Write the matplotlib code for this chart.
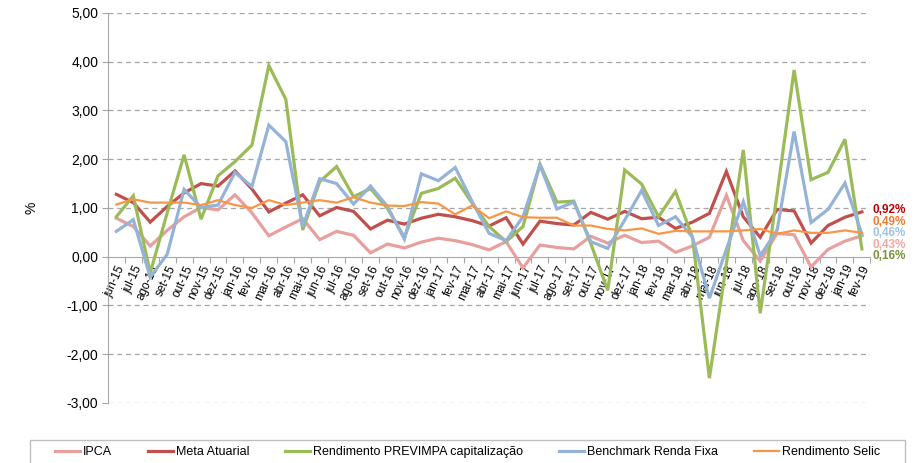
import numpy as np
import matplotlib
matplotlib.use("Agg")
import matplotlib.pyplot as plt
from matplotlib.patches import Rectangle
from matplotlib.ticker import FuncFormatter

plt.rcParams['font.family'] = ['Liberation Sans', 'DejaVu Sans']

meses = ["jun-15", "jul-15", "ago-15", "set-15", "out-15", "nov-15", "dez-15",
         "jan-16", "fev-16", "mar-16", "abr-16", "mai-16", "jun-16", "jul-16",
         "ago-16", "set-16", "out-16", "nov-16", "dez-16", "jan-17", "fev-17",
         "mar-17", "abr-17", "mai-17", "jun-17", "jul-17", "ago-17", "set-17",
         "out-17", "nov-17", "dez-17", "jan-18", "fev-18", "mar-18", "abr-18",
         "mai-18", "jun-18", "jul-18", "ago-18", "set-18", "out-18", "nov-18",
         "dez-18", "jan-19", "fev-19"]

ipca = [0.79, 0.62, 0.22, 0.54, 0.82, 1.01, 0.96, 1.27, 0.90, 0.43, 0.61, 0.78,
        0.35, 0.52, 0.44, 0.08, 0.26, 0.18, 0.30, 0.38, 0.33, 0.25, 0.14, 0.31,
        -0.23, 0.24, 0.19, 0.16, 0.42, 0.28, 0.44, 0.29, 0.32, 0.09, 0.22, 0.40,
        1.26, 0.33, -0.09, 0.48, 0.45, -0.21, 0.15, 0.32, 0.43]

meta = [1.28, 1.11, 0.71, 1.03, 1.31, 1.50, 1.45, 1.76, 1.39, 0.92, 1.10, 1.27,
        0.84, 1.01, 0.93, 0.57, 0.75, 0.67, 0.79, 0.87, 0.82, 0.74, 0.63, 0.80,
        0.26, 0.73, 0.68, 0.65, 0.91, 0.77, 0.93, 0.78, 0.81, 0.58, 0.71, 0.89,
        1.75, 0.82, 0.40, 0.97, 0.94, 0.28, 0.64, 0.81, 0.92]

previmpa = [0.82, 1.25, -0.33, 0.90, 2.09, 0.77, 1.66, 1.95, 2.29, 3.92, 3.23, 0.55,
            1.54, 1.85, 1.23, 1.40, 0.99, 0.40, 1.30, 1.40, 1.61, 1.10, 0.62, 0.31,
            0.62, 1.90, 1.12, 1.14, 0.27, -0.69, 1.78, 1.49, 0.82, 1.34, 0.40, -2.49,
            -0.15, 2.19, -1.16, 1.30, 3.83, 1.58, 1.73, 2.41, 0.16]

benchmark = [0.52, 0.76, -0.42, 0.05, 1.38, 1.01, 1.06, 1.73, 1.44, 2.70, 2.36, 0.62,
             1.60, 1.50, 1.08, 1.45, 1.03, 0.36, 1.70, 1.56, 1.83, 1.13, 0.48, 0.33,
             0.82, 1.88, 0.98, 1.12, 0.31, 0.17, 0.75, 1.36, 0.64, 0.82, 0.40, -0.85,
             0.15, 1.13, 0.02, 0.55, 2.57, 0.70, 0.97, 1.51, 0.46]

selic = [1.07, 1.18, 1.11, 1.11, 1.11, 1.06, 1.16, 1.06, 1.00, 1.16, 1.06, 1.11,
         1.16, 1.11, 1.22, 1.11, 1.05, 1.04, 1.12, 1.09, 0.87, 1.05, 0.79, 0.93,
         0.81, 0.80, 0.80, 0.64, 0.64, 0.57, 0.54, 0.58, 0.47, 0.53, 0.52, 0.52,
         0.52, 0.54, 0.57, 0.47, 0.54, 0.49, 0.49, 0.54, 0.49]

series = [
    ("IPCA", ipca, "#E6A09E", 2.3),
    ("Meta Atuarial", meta, "#C0504D", 2.3),
    ("Rendimento PREVIMPA capitalização", previmpa, "#9BBB59", 2.3),
    ("Benchmark Renda Fixa", benchmark, "#95B3D7", 2.3),
    ("Rendimento Selic", selic, "#F79646", 1.6),
]

# rótulos do último mês (texto, posição vertical do rótulo, cor)
finais = [("0,92%", 0.95, "#C00000"), ("0,49%", 0.715, "#ED7D31"),
          ("0,46%", 0.48, "#9DC3E6"), ("0,43%", 0.245, "#F4A5A5"),
          ("0,16%", 0.01, "#77933C")]

fig = plt.figure(figsize=(9.22, 4.63), dpi=100)
ax = fig.add_axes([0.117, 0.1296, 0.827, 0.8424])

x = np.arange(len(meses))
for nome, vals, cor, lw in series:
    ax.plot(x, vals, color=cor, lw=lw, label=nome, solid_joinstyle='miter')

ax.set_xlim(-0.5, len(meses) - 0.5)
ax.set_ylim(-3, 5)
ax.set_yticks(np.arange(-3, 6, 1))
ax.yaxis.set_major_formatter(FuncFormatter(lambda v, p: f"{v:.2f}".replace(".", ",")))
ax.tick_params(axis='y', labelsize=10, length=4, color='#A6A6A6', pad=3)
ax.set_ylabel("%", fontsize=10, labelpad=20)

for v in range(-3, 6):
    if v != 0:
        ax.axhline(v, color='#A6A6A6', lw=0.9, ls=(0, (4, 3)), zorder=0)

for s in ['top', 'right']:
    ax.spines[s].set_visible(False)
ax.spines['left'].set_color('#A6A6A6')
ax.spines['bottom'].set_color('#A6A6A6')
ax.spines['bottom'].set_position(('data', 0))
ax.spines['bottom'].set_zorder(0)

ax.set_xticks(np.arange(len(meses) + 1) - 0.5)
ax.set_xticklabels([])
ax.set_xticks(x, minor=True)
ax.set_xticklabels(meses, minor=True, rotation=65, ha='right', va='top',
                   rotation_mode='anchor', fontsize=8.5)
ax.tick_params(axis='x', which='major', length=4, color='#A6A6A6', direction='out')
ax.tick_params(axis='x', which='minor', length=0, pad=5)

for txt, yv, cor in finais:
    ax.text(len(meses) - 0.5 + 0.15, yv, txt, color=cor, fontsize=8.5,
            fontweight='bold', va='center', ha='left', clip_on=False)

# moldura da legenda (cortada na borda inferior)
fig.patches.append(Rectangle((30 / 922, -0.05), 875 / 922, 0.05 + 23 / 463,
                             transform=fig.transFigure, fill=False,
                             edgecolor='#BFBFBF', lw=1.0))
leg = fig.legend(loc='center', bbox_to_anchor=(0.507, 0.024), ncol=5, fontsize=9,
                 frameon=False, handlelength=2.0, handletextpad=0.25,
                 columnspacing=2.85, borderpad=0)

fig.savefig("out.png", dpi=100)
